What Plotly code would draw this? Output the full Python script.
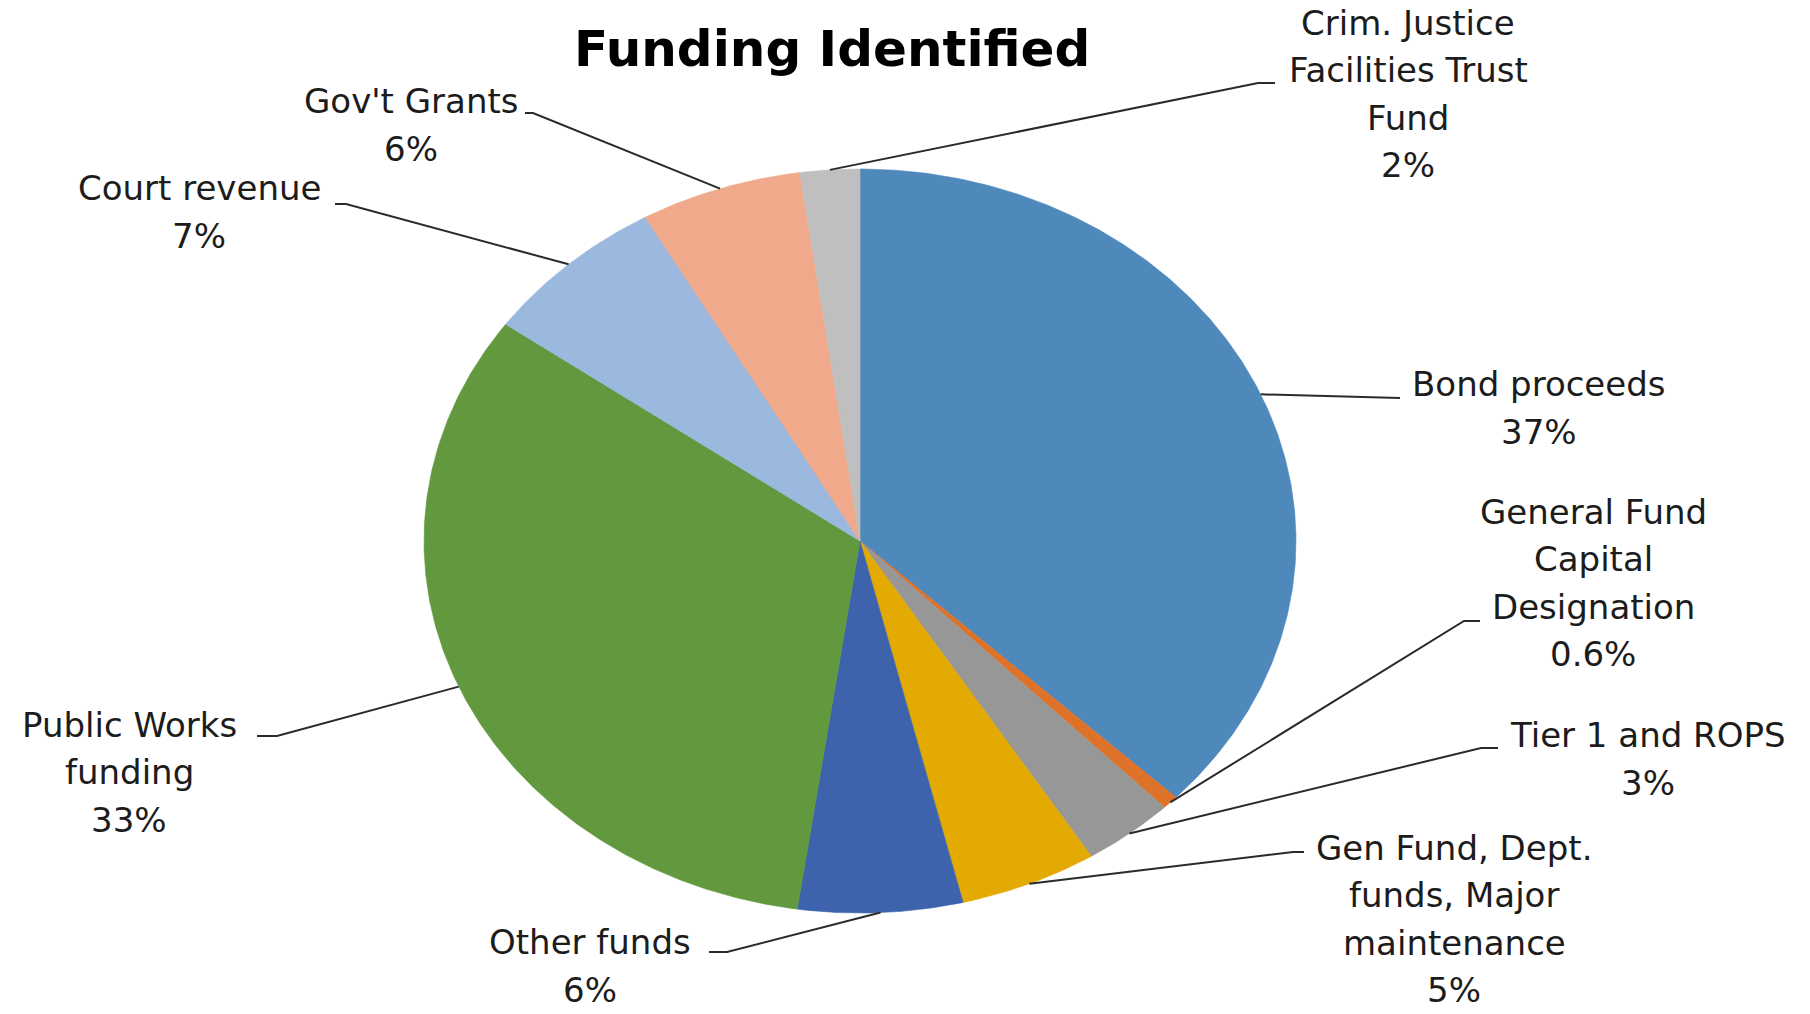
import math
import plotly.graph_objects as go

# ---------------- data ----------------
categories = [
    "Bond proceeds",
    "General Fund<br>Capital<br>Designation",
    "Tier 1 and ROPS",
    "Gen Fund, Dept.<br>funds, Major<br>maintenance",
    "Other funds",
    "Public Works<br>funding",
    "Court revenue",
    "Gov't Grants",
    "Crim. Justice<br>Facilities Trust<br>Fund",
]
values = [37.1, 0.6, 3.4, 5.1, 6.1, 32.6, 6.9, 6.0, 2.2]
colors = ["#4F89BC", "#DE7229", "#979797", "#E3AA03", "#3C63AB",
          "#62993E", "#9BB9DF", "#F0A98A", "#BFBFBF"]
title = "Funding Identified"

# ---------------- layout (pie geometry, label placement) ----------------
W, H = 1810, 1014
CX, CY, RX, RY = 860, 541, 436, 372
# label block centres and leader elbows/ends (figure pixel space)
label_pos = [(1539, 408), (1593, 583), (1648, 759), (1454, 919), (590, 966),
             (129, 772), (199, 212), (411, 125), (1408, 94)]
leader_elbow = [(1382, 398), (1464, 621), (1481, 748), (1293, 852), (727, 952),
                (277, 736), (346, 204), (533, 113), (1258, 83)]
leader_end = [1400, 1480, 1498, 1304, 709, 257, 335, 525, 1275]
LINE_GAP = 47.5

FONT = "DejaVu Sans"
TEXT_COLOR = "#1c1c1c"


def pt(theta_deg):
    t = math.radians(theta_deg)
    return CX + RX * math.sin(t), CY - RY * math.cos(t)


fig = go.Figure()
total = sum(values)
start = 0.0
mids = []
for v, c, name in zip(values, colors, categories):
    span = 360.0 * v / total
    end = start + span
    n = max(4, int(span * 2))
    xs, ys = [CX], [CY]
    for i in range(n + 1):
        x, y = pt(start + span * i / n)
        xs.append(x)
        ys.append(y)
    xs.append(CX)
    ys.append(CY)
    fig.add_trace(go.Scatter(x=xs, y=ys, mode="lines", fill="toself",
                             fillcolor=c, line=dict(color=c, width=0.6),
                             hoverinfo="text", text=name.replace("<br>", " "),
                             showlegend=False))
    mids.append(start + span / 2)
    start = end

# leader lines
for m, (ex, ey), xend in zip(mids, leader_elbow, leader_end):
    sx, sy = pt(m)
    fig.add_trace(go.Scatter(x=[sx, ex, xend], y=[sy, ey, ey], mode="lines",
                             line=dict(color="#2a2a2a", width=2),
                             hoverinfo="skip", showlegend=False))


def pct(v):
    p = 100.0 * v / total
    return f"{p:.1f}%" if p < 1 else f"{p:.0f}%"


annotations = []
for name, v, (lx, ly) in zip(categories, values, label_pos):
    lines = name.split("<br>") + [pct(v)]
    y0 = ly - (len(lines) - 1) / 2 * LINE_GAP
    for i, ln in enumerate(lines):
        annotations.append(dict(
            x=lx, y=y0 + i * LINE_GAP, xref="x", yref="y", text=ln,
            showarrow=False, xanchor="center", yanchor="middle", align="center",
            font=dict(family=FONT, size=34, color=TEXT_COLOR)))

annotations.append(dict(
    x=832, y=49, xref="x", yref="y", text=f"<b>{title}</b>", showarrow=False,
    xanchor="center", yanchor="middle",
    font=dict(family=FONT, size=50, color="#000000")))

fig.update_layout(
    width=W, height=H, margin=dict(l=0, r=0, t=0, b=0),
    paper_bgcolor="white", plot_bgcolor="white",
    xaxis=dict(range=[0, W], visible=False, fixedrange=True),
    yaxis=dict(range=[H, 0], visible=False, fixedrange=True),
    annotations=annotations, showlegend=False,
)

fig.write_html("out.html")
